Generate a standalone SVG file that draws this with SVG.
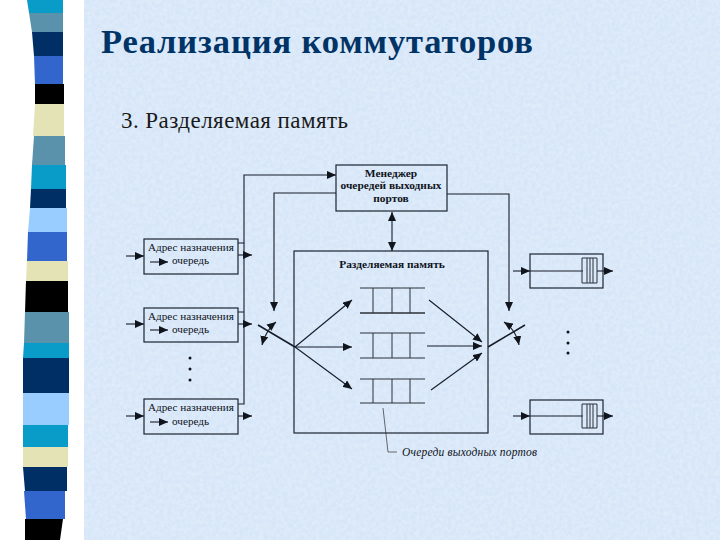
<svg xmlns="http://www.w3.org/2000/svg" width="720" height="540" viewBox="0 0 720 540">
<style>
text{font-family:"Liberation Serif","DejaVu Serif",serif;fill:#10141c}
.box{fill:none;stroke:#1c2430;stroke-width:1.2}
.l{fill:none;stroke:#161c28;stroke-width:1.1}
.a{fill:none;stroke:#161c28;stroke-width:1.1;marker-end:url(#ah)}
.lab{font-size:11.2px}
.b{font-size:11.4px;font-weight:bold;text-anchor:middle}
.q{stroke:#2a3038;stroke-width:1}
.d{fill:#10141c}
</style>
<defs>
<marker id="ah" markerUnits="userSpaceOnUse" markerWidth="10" markerHeight="8" refX="9" refY="4" orient="auto"><path d="M0 0L9 4L0 8Z" fill="#10141c"/></marker>
<marker id="as" markerUnits="userSpaceOnUse" markerWidth="10" markerHeight="8" refX="1" refY="4" orient="auto"><path d="M10 0L1 4L10 8Z" fill="#10141c"/></marker>
<filter id="tx" x="0" y="0" width="1" height="1"><feTurbulence type="fractalNoise" baseFrequency="0.25" numOctaves="3" seed="4"/><feColorMatrix values="0 0 0 0 1 0 0 0 0 1 0 0 0 0 1 0.9 0 0 0 -0.25"/></filter>
</defs>
<rect width="720" height="540" fill="#fff"/>
<rect x="84" width="636" height="540" fill="#d6e6f8"/>
<rect x="84" width="636" height="540" filter="url(#tx)" opacity="0.5"/>
<g id="strip">
<path fill="#0a9cc8" d="M27 0H63V13H29Z"/>
<path fill="#5a92ab" d="M29 13H63V32H32Z"/>
<path fill="#002f66" d="M32 32H63V56H34Z"/>
<path fill="#3366cc" d="M34 56H63V84H35Z"/>
<path fill="#000" d="M35 84H64V104H35Z"/>
<path fill="#e3e3b5" d="M35 104H64V136H33Z"/>
<path fill="#5a92ab" d="M34 136H65V165H32Z"/>
<path fill="#0a9cc8" d="M32 165H66V189H31Z"/>
<path fill="#002f66" d="M31 189H66V208H30Z"/>
<path fill="#99ccff" d="M30 208H67V232H28Z"/>
<path fill="#3366cc" d="M28 232H67V261H27Z"/>
<path fill="#e3e3b5" d="M27 261H68V281H26Z"/>
<path fill="#000" d="M26 281H68V312H25Z"/>
<path fill="#5a92ab" d="M25 312H69V343H24Z"/>
<path fill="#0a9cc8" d="M24 343H69V358H23Z"/>
<path fill="#002f66" d="M23 358H69V393H23Z"/>
<path fill="#99ccff" d="M23 393H69V425H23Z"/>
<path fill="#0a9cc8" d="M23 425H68V447H23Z"/>
<path fill="#e3e3b5" d="M23 447H68V467H23Z"/>
<path fill="#002f66" d="M23 467H67V491H25Z"/>
<path fill="#3366cc" d="M24 491H65V519H26Z"/>
<path fill="#000" d="M25 519H63L60 540H25Z"/>
</g>
<text x="101" y="52.5" font-size="34.5" font-weight="bold" style="fill:#003366" textLength="432" lengthAdjust="spacing">Реализация коммутаторов</text>
<text x="121" y="128" font-size="23" style="fill:#1a1a1a" textLength="227" lengthAdjust="spacing">3. Разделяемая память</text>
<g id="connectors">
<path class="a" d="M238 243H244V175H336"/>
<path class="l" d="M238 312H244M238 404H244V243"/>
<path class="a" d="M336 193H274V311"/>
<path class="a" d="M447 194H509V311"/>
<path class="a" d="M392 212V251" style="marker-start:url(#as)"/>
<path class="a" d="M126 256H144"/><path class="a" d="M126 324H144"/><path class="a" d="M126 416H144"/>
<path class="a" d="M150 262H168"/><path class="a" d="M150 330H168"/><path class="a" d="M150 422H168"/>
<path class="a" d="M238 255H252"/><path class="a" d="M238 324H252"/><path class="a" d="M238 416H252"/>
<path d="M258 325L295 347" fill="none" stroke="#161c28" stroke-width="1.6"/>
<path class="a" d="M295 347L352 300"/><path class="a" d="M295 347L352 347"/><path class="a" d="M295 347L352 389"/>
<path class="a" d="M276 322Q266 330 262 345" style="marker-start:url(#as)"/>
<path class="a" d="M429 300L482 342"/><path class="a" d="M427 346H482"/><path class="a" d="M431 390L482 353"/>
<path d="M488 347L525 325" fill="none" stroke="#161c28" stroke-width="1.6"/>
<path class="a" d="M504 322Q516 330 519 345" style="marker-start:url(#as)"/>
<path class="a" d="M513 271H530"/><path class="l" d="M530 271H583"/><path class="a" d="M597 271H613"/>
<path class="a" d="M513 416H530"/><path class="l" d="M530 416H583"/><path class="a" d="M597 416H613"/>
<path d="M383 408L388 452H397" fill="none" stroke="#444" stroke-width="0.8"/>
</g>
<g id="manager"><rect class="box" x="336" y="165" width="111" height="46"/>
<text class="b" x="391" y="177">Менеджер</text><text class="b" x="391" y="189">очередей выходных</text><text class="b" x="391" y="202">портов</text></g>
<g id="memory"><rect class="box" x="294" y="251" width="194" height="182"/>
<text class="b" x="392" y="268">Разделяемая память</text></g>
<g id="src1"><rect class="box" x="144" y="239" width="94" height="35"/><text class="lab" x="148" y="251">Адрес назначения</text><text class="lab" x="172" y="264">очередь</text></g>
<g id="src2"><rect class="box" x="144" y="308" width="94" height="34"/><text class="lab" x="148" y="320">Адрес назначения</text><text class="lab" x="172" y="333">очередь</text></g>
<g id="src3"><rect class="box" x="144" y="399" width="94" height="35"/><text class="lab" x="148" y="411">Адрес назначения</text><text class="lab" x="172" y="425">очередь</text></g>
<g id="queue1" class="q"><path d="M360 288H425M373 288V313M392 288V313M410 288V313" fill="none"/><path d="M360 313H425" stroke-width="1.6"/></g>
<g id="queue2" class="q"><path d="M360 333H425M360 358H425M373 333V358M392 333V358M410 333V358" fill="none"/></g>
<g id="queue3" class="q"><path d="M360 379H425M360 403H425M373 379V403M392 379V403M410 379V403" fill="none"/></g>
<g id="out1"><rect class="box" x="530" y="254" width="73" height="34"/><path class="q" fill="none" d="M582 258H597V283H582ZM587 258V283M590 258V283M593 258V283"/></g>
<g id="out2"><rect class="box" x="530" y="400" width="73" height="34"/><path class="q" fill="none" d="M582 404H597V428H582ZM587 404V428M590 404V428M593 404V428"/></g>
<g id="dots"><circle class="d" cx="190" cy="358" r="1.5"/><circle class="d" cx="190" cy="369" r="1.5"/><circle class="d" cx="190" cy="380" r="1.5"/><circle class="d" cx="568" cy="332" r="1.5"/><circle class="d" cx="568" cy="343" r="1.5"/><circle class="d" cx="568" cy="353" r="1.5"/></g>
<text x="402" y="456" font-size="11.5" font-style="italic" textLength="135" lengthAdjust="spacing">Очереди выходных портов</text>
</svg>
